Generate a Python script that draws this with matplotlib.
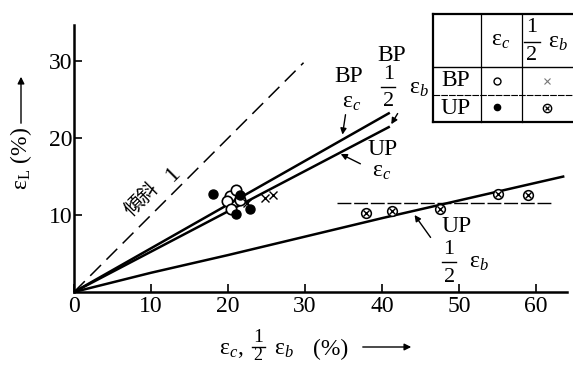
import matplotlib
matplotlib.use("Agg")
import matplotlib.pyplot as plt
from matplotlib.lines import Line2D
from matplotlib.patches import FancyArrowPatch

plt.rcParams['font.family'] = ['Liberation Serif', 'DejaVu Serif']
plt.rcParams['mathtext.fontset'] = 'custom'
plt.rcParams['mathtext.rm'] = 'Liberation Serif'
plt.rcParams['mathtext.it'] = 'Liberation Serif:italic'

# --- data -----------------------------------------------------------------
# strain of the two specimen types (BP, UP): circumferential eps_c and half
# bending strain eps_b/2 against longitudinal strain eps_L, all in %
bp_ec_x = [20.2, 21.0, 19.8, 20.4, 21.5]
bp_ec_y = [12.5, 13.2, 11.8, 10.8, 12.0]
up_ec_x = [18.0, 21.5, 21.0, 22.8]
up_ec_y = [12.8, 12.6, 10.2, 10.8]
bp_hb_x = [22.4, 24.8, 25.8]
bp_hb_y = [11.6, 12.2, 12.6]
up_hb_x = [37.9, 41.3, 47.5, 55.0, 59.0]
up_hb_y = [10.3, 10.5, 10.8, 12.7, 12.6]

# fitted trend lines
slope1_x = [0, 29.8]
slope1_y = [0, 29.8]
bp_ec_fit_x = [0, 41.0]
bp_ec_fit_y = [0, 23.3]
up_ec_fit_x = [0, 41.0]
up_ec_fit_y = [0, 21.5]
up_hb_fit_x = [0, 10, 20, 30, 40, 50, 60, 63.5]
up_hb_fit_y = [0, 2.5, 4.8, 7.2, 9.6, 11.9, 14.2, 15.0]
level_x = [34.2, 62.2]
level_y = [11.6, 11.6]

x_ticks = [0, 10, 20, 30, 40, 50, 60]
y_ticks = [10, 20, 30]

W, H = 573, 365
fig = plt.figure(figsize=(W / 100, H / 100), dpi=100)
ax = fig.add_axes([74 / W, 1 - 292 / H, (567 - 74) / W, (292 - 25) / H])
ax.set_xlim(0, 64)
ax.set_ylim(0, 34.7)
for s in ['top', 'right']:
    ax.spines[s].set_visible(False)
for s in ['left', 'bottom']:
    ax.spines[s].set_linewidth(1.8)
ax.set_xticks(x_ticks)
ax.set_yticks(y_ticks)
ax.tick_params(direction='in', length=6, width=1.2, labelsize=17)
ax.tick_params(axis='x', pad=3)
ax.tick_params(axis='y', pad=1)

# lines
ax.plot(slope1_x, slope1_y, color='black', lw=1.1, dashes=(10, 5))
ax.plot(bp_ec_fit_x, bp_ec_fit_y, color='black', lw=1.8, solid_capstyle='butt')
ax.plot(up_ec_fit_x, up_ec_fit_y, color='black', lw=1.8, solid_capstyle='butt')
ax.plot(up_hb_fit_x, up_hb_fit_y, color='black', lw=1.8)
ax.plot(level_x, level_y, color='black', lw=1.0, dashes=(10, 2))

# points
ax.plot(bp_ec_x, bp_ec_y, 'o', ms=7.5, mfc='white', mec='black', mew=1.2, zorder=4)
ax.plot(up_ec_x, up_ec_y, 'o', ms=6.5, mfc='black', mec='black', zorder=5)
ax.plot(bp_hb_x, bp_hb_y, 'x', ms=6, mec='black', mew=1.0, zorder=5)
ax.plot(up_hb_x, up_hb_y, 'o', ms=7, mfc='white', mec='black', mew=1.1, zorder=5)
ax.plot(up_hb_x, up_hb_y, 'x', ms=4, mec='black', mew=1.0, zorder=6)

# labels on the lines
def eps(sub, x, y, size=17, **kw):
    ax.text(x, y, r'$\mathrm{ε}_{%s}$' % sub, fontsize=size, ha='center',
            va='center', clip_on=False, **kw)

def half(x, y, size=16):
    ax.text(x, y + 1.6, '1', fontsize=size, ha='center', va='center')
    ax.text(x, y - 2.0, '2', fontsize=size, ha='center', va='center')
    ax.plot([x - 0.9, x + 0.9], [y, y], color='black', lw=1.0)

arrow = dict(arrowstyle='-|>', color='black', lw=1.0, mutation_scale=9)

ax.text(35.7, 28.0, 'BP', fontsize=17, ha='center', va='center')
eps('c', 36.0, 24.6)
ax.annotate('', xy=(34.8, 20.1), xytext=(35.3, 23.4), arrowprops=arrow)

ax.text(41.3, 30.7, 'BP', fontsize=17, ha='center', va='center')
half(40.8, 26.7)
eps('b', 44.8, 26.4)
ax.annotate('', xy=(41.0, 21.5), xytext=(42.2, 23.5), arrowprops=arrow)

ax.text(40.0, 18.5, 'UP', fontsize=17, ha='center', va='center')
eps('c', 39.9, 15.7)
ax.annotate('', xy=(34.3, 18.1), xytext=(37.5, 16.5), arrowprops=arrow)

ax.text(49.7, 8.5, 'UP', fontsize=17, ha='center', va='center')
half(48.7, 3.9)
eps('b', 52.6, 3.8)
ax.annotate('', xy=(44.0, 10.3), xytext=(46.5, 6.8), arrowprops=arrow)

ax.text(8.8, 12.0, '傾斜', fontsize=14, rotation=45, ha='center', va='center',
        family=['Noto Sans CJK JP', 'DejaVu Sans'])
ax.text(12.9, 15.3, '1', fontsize=17, rotation=45, ha='center', va='center')

# axis titles
def fpx(x, y):
    return x / W, 1 - y / H

fig.text(*fpx(21, 158), r'$\mathrm{ε}_{\mathrm{L}}$ (%)', rotation=90,
         fontsize=17, ha='center', va='center')
fig.add_artist(FancyArrowPatch(
    fpx(21, 126), fpx(21, 74), transform=fig.transFigure,
    arrowstyle='-|>', mutation_scale=10, lw=1.0, color='black'))

fig.text(*fpx(231, 350), r'$\mathrm{ε}_{c}$,', fontsize=17, ha='center', va='center')
fig.text(*fpx(258, 338), '1', fontsize=14, ha='center', va='center')
fig.add_artist(Line2D([252 / W, 265 / W], [1 - 347 / H] * 2,
                      transform=fig.transFigure, color='black', lw=1.0))
fig.text(*fpx(258, 356), '2', fontsize=13, ha='center', va='center')
fig.text(*fpx(284, 350), r'$\mathrm{ε}_{b}$', fontsize=17, ha='center', va='center')
fig.text(*fpx(331, 349), '(%)', fontsize=17, ha='center', va='center')
fig.add_artist(FancyArrowPatch(
    fpx(360, 347), fpx(414, 347), transform=fig.transFigure,
    arrowstyle='-|>', mutation_scale=10, lw=1.0, color='black'))

# symbol key table
def hline(y, x0, x1, lw, **kw):
    fig.add_artist(Line2D([x0 / W, x1 / W], [1 - y / H] * 2,
                          transform=fig.transFigure, color='black', lw=lw, **kw))

def vline(x, y0, y1, lw):
    fig.add_artist(Line2D([x / W] * 2, [1 - y0 / H, 1 - y1 / H],
                          transform=fig.transFigure, color='black', lw=lw))

hline(14, 433, 573, 1.6)
hline(67, 433, 573, 1.0)
hline(95, 433, 573, 0.8, dashes=(6, 1))
hline(122, 433, 573, 1.6)
vline(433, 14, 122, 1.6)
vline(481, 14, 122, 0.9)
vline(522, 14, 122, 0.9)

fig.text(*fpx(501, 41), r'$\mathrm{ε}_{c}$', fontsize=17, ha='center', va='center')
fig.text(*fpx(532, 28), '1', fontsize=16, ha='center', va='center')
hline(42, 524, 540, 1.0)
fig.text(*fpx(532, 55), '2', fontsize=16, ha='center', va='center')
fig.text(*fpx(558, 43), r'$\mathrm{ε}_{b}$', fontsize=17, ha='center', va='center')
fig.text(*fpx(456, 81), 'BP', fontsize=17, ha='center', va='center')
fig.text(*fpx(456, 108), 'UP', fontsize=17, ha='center', va='center')

def key(x, y, **kw):
    fig.add_artist(Line2D([x / W], [1 - y / H], transform=fig.transFigure,
                          linestyle='none', **kw))

key(497, 81, marker='o', ms=5, mfc='white', mec='black', mew=1.0)
key(547, 81, marker='x', ms=4, mec='#777777', mew=0.8)
key(497, 107, marker='o', ms=4.5, mfc='black', mec='black')
key(547, 108, marker='o', ms=6, mfc='white', mec='black', mew=1.0)
key(547, 108, marker='x', ms=3.5, mec='black', mew=0.9)

fig.savefig('out.png', dpi=100)
